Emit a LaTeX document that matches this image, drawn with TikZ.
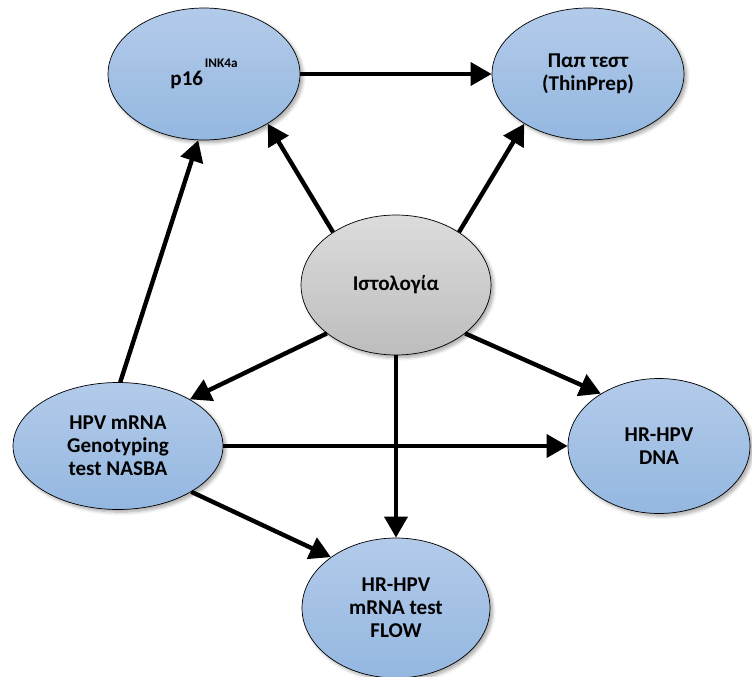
\documentclass[tikz,border=0pt]{standalone}
\usepackage{fontspec}
\setmainfont{Carlito}
\usepackage{tikz}
\usetikzlibrary{arrows.meta, positioning, shapes.geometric, shadows.blur}
\definecolor{TopBlue}{HTML}{B3CBEA}
\definecolor{LowBlue}{HTML}{94B7E0}
\definecolor{TopGray}{HTML}{DCDCDC}
\definecolor{LowGray}{HTML}{BDBDBD}

\begin{document}
\begin{tikzpicture}[
    x=0.02cm, y=-0.02cm,
    test/.style={ellipse, draw, thin, inner sep=0pt, align=center,
        font=\fontsize{12}{13}\selectfont\bfseries,
        top color=TopBlue, bottom color=LowBlue,
        blur shadow={shadow xshift=1.5pt, shadow yshift=-1.5pt, shadow opacity=35, shadow blur steps=6}},
    arrow/.style={-{Triangle[length=12pt, width=13pt]}, line width=2.5pt}
]
\useasboundingbox (0,0) rectangle (752,677);

\node[test, minimum width=3.84cm, minimum height=2.64cm] (p16) at (204,74)
    {p16\hspace{1pt}\raisebox{10pt}{\fontsize{7.5}{8}\selectfont INK4a}};
\node[test, minimum width=3.84cm, minimum height=2.64cm] (pap) at (588,74) {Παπ τεστ\\(ThinPrep)};
\node[test, minimum width=3.8cm, minimum height=2.8cm, top color=TopGray, bottom color=LowGray] (hist) at (396,285) {Ιστολογία};
\node[test, minimum width=4.2cm, minimum height=2.54cm] (nasba) at (118,446) {HPV mRNA\\Genotyping\\test NASBA};
\node[test, minimum width=3.64cm, minimum height=2.7cm] (dna) at (659,446) {HR-HPV\\DNA};
\node[test, minimum width=3.76cm, minimum height=2.8cm] (flow) at (396,608) {HR-HPV\\mRNA test\\FLOW};

\draw[arrow] (p16) -- (pap);
\draw[arrow] (hist.140) -- (p16.-38);
\draw[arrow] (hist.40) -- (pap.-142);
\draw[arrow] (nasba.88) -- (p16.-95);
\draw[arrow] (hist.-145) -- (nasba.33);
\draw[arrow] (hist.-35) -- (dna.138);
\draw[arrow] (hist) -- (flow);
\draw[arrow] (nasba) -- (dna);
\draw[arrow] (nasba.-32) -- (flow.142);
\end{tikzpicture}
\end{document}
